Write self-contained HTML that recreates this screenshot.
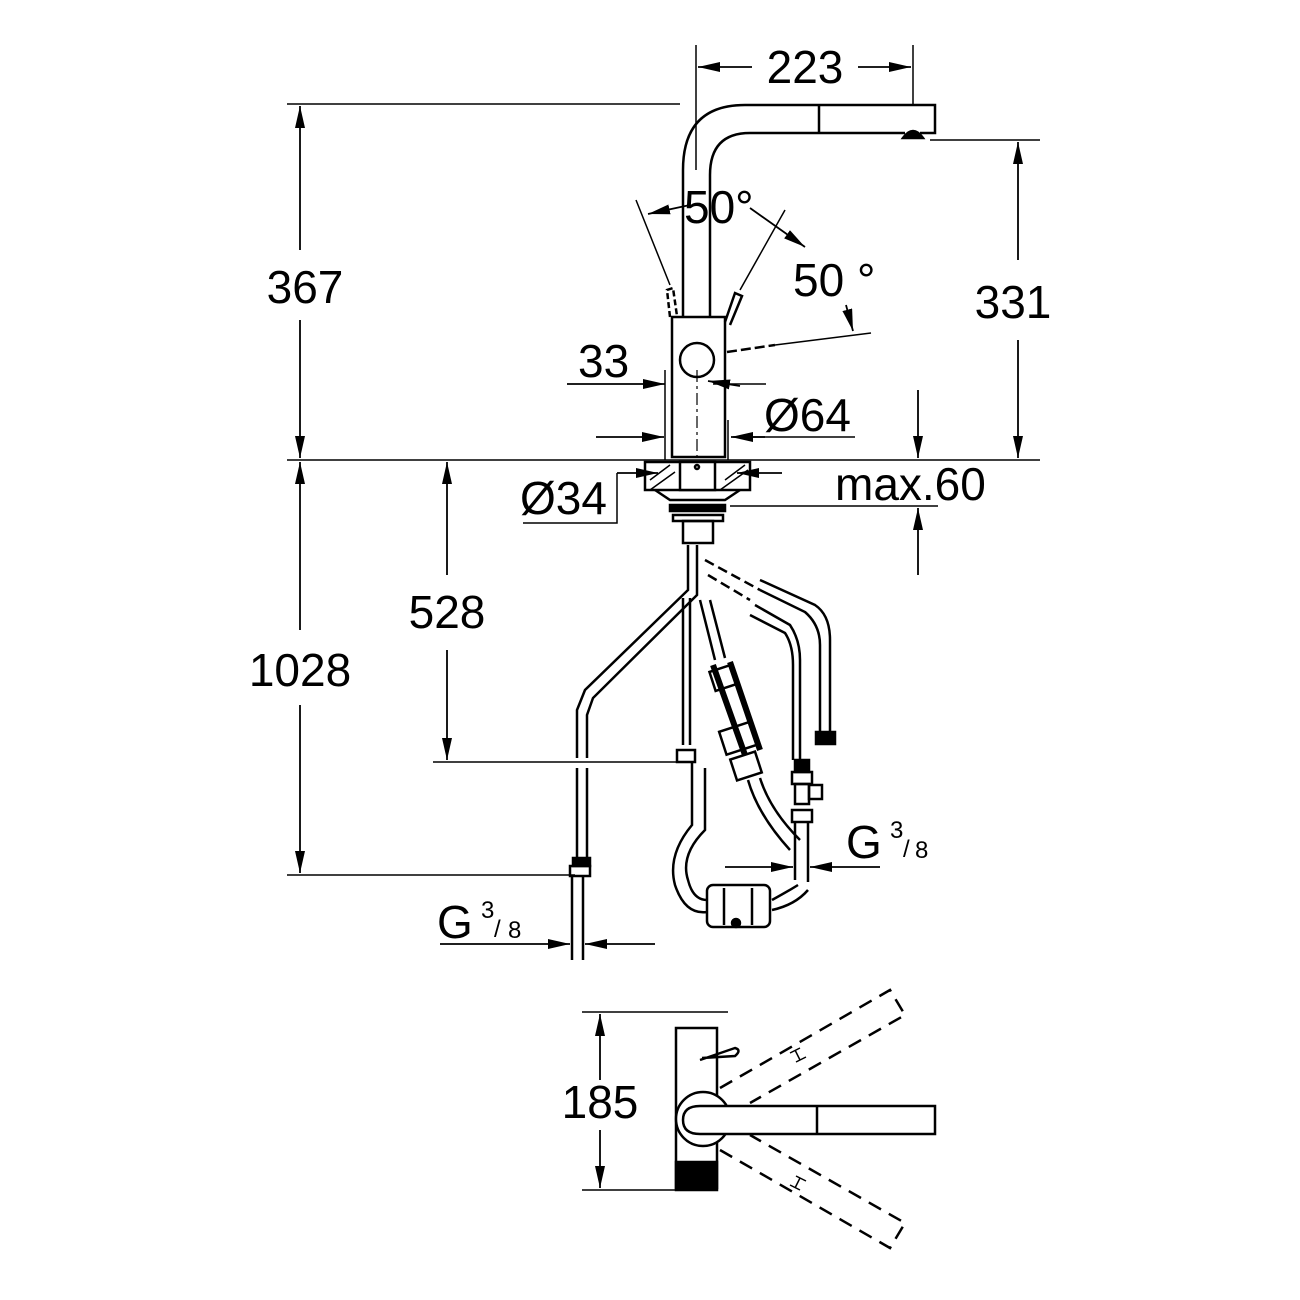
<!DOCTYPE html>
<html><head><meta charset="utf-8"><style>
html,body{margin:0;padding:0;background:#fff}
svg{display:block}
text{font-family:"Liberation Sans",sans-serif;fill:#000}
</style></head><body>
<svg width="1300" height="1300" viewBox="0 0 1300 1300" xmlns="http://www.w3.org/2000/svg">
<defs>
<marker id="a" viewBox="0 0 10 10" preserveAspectRatio="none" refX="10" refY="5" markerWidth="22" markerHeight="10" markerUnits="userSpaceOnUse" orient="auto"><path d="M0,0L10,5L0,10z" fill="#000"/></marker>
</defs>
<g stroke="#000" fill="none" stroke-width="2.5">
<line x1="696" y1="45" x2="696" y2="170" stroke-width="1.5"/>
<line x1="913" y1="45" x2="913" y2="105" stroke-width="1.5"/>
<line x1="752" y1="67" x2="698" y2="67" marker-end="url(#a)" stroke-width="1.8"/>
<line x1="858" y1="67" x2="911" y2="67" marker-end="url(#a)" stroke-width="1.8"/>
<line x1="287" y1="104" x2="680" y2="104" stroke-width="1.5"/>
<line x1="300" y1="250" x2="300" y2="106" marker-end="url(#a)" stroke-width="1.8"/>
<line x1="300" y1="320" x2="300" y2="458" marker-end="url(#a)" stroke-width="1.8"/>
<line x1="287" y1="460" x2="1040" y2="460" stroke-width="1.5"/>
<line x1="300" y1="630" x2="300" y2="462" marker-end="url(#a)" stroke-width="1.8"/>
<line x1="300" y1="705" x2="300" y2="873" marker-end="url(#a)" stroke-width="1.8"/>
<line x1="287" y1="875" x2="575" y2="875" stroke-width="1.5"/>
<line x1="930" y1="140" x2="1040" y2="140" stroke-width="1.5"/>
<line x1="1018" y1="260" x2="1018" y2="142" marker-end="url(#a)" stroke-width="1.8"/>
<line x1="1018" y1="340" x2="1018" y2="458" marker-end="url(#a)" stroke-width="1.8"/>
<path d="M683 317 L683 170 Q683 105 745 105 L935 105 L935 133 L920 133"/>
<path d="M710 317 L710 175 Q710 133 750 133 L905 133"/>
<line x1="819" y1="105" x2="819" y2="133"/>
<path d="M903 138 Q913 124 923 138 Z" fill="#000"/>
<rect x="672" y="317" width="53" height="140"/>
<circle cx="697" cy="360" r="17"/>
<line x1="697" y1="370" x2="697" y2="460" stroke-width="1.2" stroke-dasharray="12,4,3,4"/>
<path d="M725 322 L735 293 L742 296 L730 325" />
<path d="M670 317 L667 290 L673 288 L677 316" stroke-dasharray="6,3"/>
<line x1="636" y1="200" x2="670" y2="285" stroke-width="1.5"/>
<line x1="785" y1="210" x2="740" y2="290" stroke-width="1.5"/>
<line x1="690" y1="205" x2="648" y2="214" marker-end="url(#a)" stroke-width="1.8"/>
<line x1="750" y1="208" x2="805" y2="247" marker-end="url(#a)" stroke-width="1.8"/>
<path d="M727 352 L775 345" stroke-dasharray="10,4"/>
<line x1="775" y1="345" x2="871" y2="333" stroke-width="1.5"/>
<line x1="846" y1="305" x2="853" y2="331" marker-end="url(#a)" stroke-width="1.8"/>
<line x1="567" y1="384" x2="665" y2="384" marker-end="url(#a)" stroke-width="1.8"/>
<line x1="766" y1="384" x2="713" y2="384" stroke-width="1.5"/>
<line x1="740" y1="386" x2="708" y2="381" marker-end="url(#a)" stroke-width="1.8"/>
<line x1="665" y1="370" x2="665" y2="460" stroke-width="1.5"/>
<line x1="596" y1="437" x2="664" y2="437" marker-end="url(#a)" stroke-width="1.8"/>
<line x1="855" y1="437" x2="733" y2="437" stroke-width="1.5"/>
<line x1="765" y1="437" x2="731" y2="437" marker-end="url(#a)" stroke-width="1.8"/>
<line x1="728" y1="420" x2="728" y2="460" stroke-width="1.5"/>
<rect x="645" y="462" width="105" height="28" />
<rect x="680" y="462" width="35" height="28" fill="#fff"/>
<circle cx="697" cy="467" r="2"/>
<path d="M650 480 L670 465 M650 490 L675 472 M725 480 L745 465 M720 490 L748 470" stroke-width="1.5"/>
<path d="M655 490 L670 500 L725 500 L740 490"/>
<rect x="670" y="505" width="55" height="6" fill="#000"/>
<rect x="673" y="515" width="50" height="6"/>
<rect x="683" y="521" width="30" height="22"/>
<line x1="617" y1="473" x2="658" y2="473" marker-end="url(#a)" stroke-width="1.8"/>
<line x1="782" y1="473" x2="737" y2="473" marker-end="url(#a)" stroke-width="1.8"/>
<path d="M617 473 L617 523 L523 523" stroke-width="1.5"/>
<line x1="918" y1="390" x2="918" y2="458" marker-end="url(#a)" stroke-width="1.8"/>
<line x1="918" y1="575" x2="918" y2="508" marker-end="url(#a)" stroke-width="1.8"/>
<line x1="730" y1="506" x2="938" y2="506" stroke-width="1.5"/>
<path d="M688 545 L688 590 L585 690 L577 710 L577 758"/>
<path d="M697 545 L697 595 L593 698 L587 715 L587 758"/>
<path d="M577 768 L577 860 M587 768 L587 860"/>
<rect x="573" y="858" width="17" height="8" fill="#000"/>
<rect x="570" y="866" width="20" height="10"/>
<line x1="572" y1="876" x2="572" y2="960"/><line x1="583" y1="876" x2="583" y2="960"/>
<path d="M683 598 L683 745 M690 598 L690 745"/>
<rect x="677" y="750" width="18" height="12"/>
<path d="M692 762 L692 825 Q667 855 675 885 Q685 915 707 912 M705 768 L705 830 Q680 855 688 880 Q693 900 707 900"/>
<path d="M772 900 Q790 890 798 885 M772 910 Q795 905 808 890"/>
<rect x="707" y="885" width="63" height="42" rx="6"/>
<line x1="724" y1="888" x2="724" y2="925"/><line x1="752" y1="888" x2="752" y2="925"/>
<circle cx="736" cy="923" r="4" fill="#000"/>
<path d="M700 600 L715 660 M710 600 L725 658"/>
<path d="M713 665 L745 755 M730 662 L760 750" stroke-width="6" stroke-linecap="butt"/>
<rect x="712" y="668" width="22" height="20" transform="rotate(-18 723 678)"/>
<rect x="722" y="726" width="34" height="24" transform="rotate(-18 739 738)"/>
<rect x="733" y="755" width="26" height="22" transform="rotate(-18 746 766)"/>
<path d="M748 780 Q758 815 790 850 M760 778 Q770 810 800 840"/>
<path d="M705 560 L760 590" stroke-dasharray="10,5"/>
<path d="M708 575 L750 600" stroke-dasharray="10,5"/>
<path d="M760 580 L815 605 Q830 615 830 640 L830 735 M760 590 L805 612 Q820 625 820 645 L820 735"/>
<rect x="816" y="732" width="19" height="12" fill="#000"/>
<path d="M755 605 L790 625 Q800 640 800 660 L800 760 M750 615 L785 633 Q793 645 793 665 L793 760"/>
<rect x="795" y="760" width="14" height="12" fill="#000"/>
<rect x="792" y="772" width="20" height="12"/>
<rect x="795" y="784" width="14" height="20"/>
<rect x="809" y="785" width="13" height="14"/>
<rect x="792" y="810" width="20" height="12"/>
<path d="M795 822 L795 880 M808 822 L808 882"/>
<line x1="433" y1="762" x2="690" y2="762" stroke-width="1.5"/>
<line x1="447" y1="575" x2="447" y2="462" marker-end="url(#a)" stroke-width="1.8"/>
<line x1="447" y1="650" x2="447" y2="760" marker-end="url(#a)" stroke-width="1.8"/>
<line x1="725" y1="867" x2="793" y2="867" marker-end="url(#a)" stroke-width="1.8"/>
<line x1="880" y1="867" x2="810" y2="867" marker-end="url(#a)" stroke-width="1.8"/>
<line x1="440" y1="944" x2="570" y2="944" marker-end="url(#a)" stroke-width="1.8"/>
<line x1="655" y1="944" x2="585" y2="944" marker-end="url(#a)" stroke-width="1.8"/>
<line x1="582" y1="1012" x2="728" y2="1012" stroke-width="1.5"/>
<line x1="582" y1="1190" x2="675" y2="1190" stroke-width="1.5"/>
<line x1="600" y1="1080" x2="600" y2="1014" marker-end="url(#a)" stroke-width="1.8"/>
<line x1="600" y1="1130" x2="600" y2="1188" marker-end="url(#a)" stroke-width="1.8"/>
<rect x="676" y="1028" width="41" height="160"/>
<rect x="676" y="1162" width="41" height="28" fill="#000"/>
<path d="M700 1060 L735 1048 Q742 1050 735 1056 L702 1058" />
<circle cx="703" cy="1119" r="27" fill="#fff"/>
<path d="M935 1106 L700 1106 Q683 1106 683 1120 Q683 1134 700 1134 L935 1134 Z" fill="#fff"/>
<line x1="817" y1="1106" x2="817" y2="1134"/>
<g stroke-dasharray="14,9">
<path d="M720 1088 L890 990 L905 1015 L750 1103"/>
<path d="M720 1150 L890 1248 L905 1223 L750 1135"/>
</g>
<path d="M795 1050 L800 1060 M790 1053 L800 1048 M796 1062 L806 1057 M795 1188 L800 1178 M790 1185 L800 1190 M796 1176 L806 1181" stroke-width="1.5"/>
</g>
<g font-size="46">
<text x="805" y="83" text-anchor="middle">223</text>
<text x="305" y="303" text-anchor="middle">367</text>
<text x="300" y="686" text-anchor="middle">1028</text>
<text x="1013" y="318" text-anchor="middle">331</text>
<text x="447" y="628" text-anchor="middle">528</text>
<text x="684" y="223">50°</text>
<text x="793" y="296">50 °</text>
<text x="578" y="377">33</text>
<text x="764" y="431">Ø64</text>
<text x="520" y="514">Ø34</text>
<text x="835" y="500">max.60</text>
<text x="846" y="858">G</text>
<text x="437" y="938">G</text>
<text x="600" y="1118" text-anchor="middle">185</text>
</g>
<g font-size="24">
<text x="890" y="838">3</text><text x="903" y="857">/</text><text x="915" y="858">8</text>
<text x="481" y="918">3</text><text x="494" y="937">/</text><text x="508" y="938">8</text>
</g>
</svg>
</body></html>
